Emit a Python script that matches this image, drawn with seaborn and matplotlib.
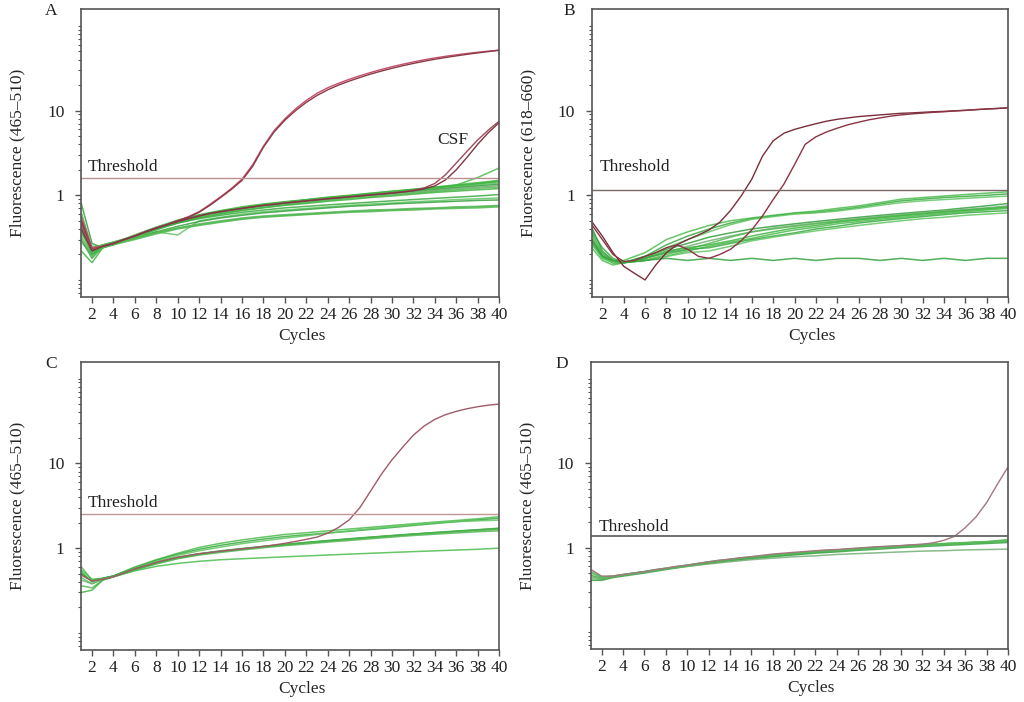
import matplotlib
matplotlib.use("Agg")
import matplotlib.pyplot as plt
import matplotlib.ticker as mticker
import numpy as np
import seaborn as sns

# cycles
CYCLES = list(range(1, 41))
G_CYC = [1, 2, 3, 4, 6, 8, 10, 12, 14, 16, 18, 20, 22, 24, 26, 28, 30, 32, 34, 36, 38, 40]
X_TICKS = list(range(2, 41, 2))

# ---- panel A (465-510) ----
A_GREEN = [
    [0.62, 0.23, 0.25, 0.27, 0.34, 0.42, 0.51, 0.59, 0.66, 0.73, 0.79, 0.84, 0.89, 0.95, 1.00, 1.06, 1.12, 1.18, 1.25, 1.33, 1.41, 1.50],
    [0.48, 0.22, 0.26, 0.28, 0.33, 0.41, 0.50, 0.58, 0.65, 0.71, 0.77, 0.83, 0.88, 0.93, 0.98, 1.04, 1.10, 1.16, 1.22, 1.29, 1.36, 1.45],
    [0.35, 0.25, 0.25, 0.27, 0.33, 0.40, 0.49, 0.57, 0.64, 0.70, 0.76, 0.81, 0.86, 0.91, 0.96, 1.01, 1.07, 1.13, 1.19, 1.26, 1.33, 1.40],
    [0.80, 0.27, 0.24, 0.26, 0.32, 0.40, 0.48, 0.56, 0.63, 0.69, 0.75, 0.80, 0.85, 0.90, 0.95, 1.00, 1.05, 1.11, 1.17, 1.23, 1.29, 1.35],
    [0.28, 0.20, 0.24, 0.27, 0.34, 0.42, 0.50, 0.57, 0.63, 0.69, 0.74, 0.79, 0.84, 0.89, 0.94, 0.99, 1.04, 1.09, 1.14, 1.20, 1.25, 1.30],
    [0.42, 0.24, 0.26, 0.28, 0.33, 0.40, 0.48, 0.55, 0.61, 0.67, 0.72, 0.77, 0.82, 0.87, 0.92, 0.96, 1.01, 1.06, 1.11, 1.16, 1.21, 1.25],
    [0.22, 0.16, 0.24, 0.27, 0.32, 0.39, 0.47, 0.54, 0.60, 0.66, 0.71, 0.76, 0.80, 0.85, 0.89, 0.94, 0.98, 1.03, 1.08, 1.12, 1.16, 1.20],
    [0.55, 0.21, 0.25, 0.27, 0.33, 0.41, 0.49, 0.57, 0.64, 0.70, 0.76, 0.81, 0.86, 0.91, 0.96, 1.01, 1.07, 1.13, 1.20, 1.32, 1.62, 2.10],
    [0.30, 0.18, 0.25, 0.27, 0.33, 0.40, 0.47, 0.53, 0.58, 0.63, 0.67, 0.71, 0.74, 0.77, 0.80, 0.83, 0.86, 0.89, 0.92, 0.95, 0.98, 1.02],
    [0.45, 0.22, 0.25, 0.27, 0.32, 0.37, 0.34, 0.50, 0.55, 0.60, 0.64, 0.67, 0.70, 0.73, 0.76, 0.79, 0.81, 0.84, 0.86, 0.89, 0.91, 0.93],
    [0.38, 0.20, 0.25, 0.27, 0.31, 0.37, 0.43, 0.49, 0.54, 0.58, 0.62, 0.65, 0.68, 0.71, 0.74, 0.76, 0.79, 0.81, 0.83, 0.85, 0.87, 0.88],
    [0.60, 0.24, 0.25, 0.27, 0.31, 0.36, 0.41, 0.46, 0.50, 0.54, 0.57, 0.59, 0.61, 0.63, 0.65, 0.67, 0.68, 0.70, 0.71, 0.73, 0.74, 0.76],
    [0.33, 0.19, 0.24, 0.26, 0.30, 0.35, 0.40, 0.44, 0.48, 0.52, 0.55, 0.57, 0.59, 0.61, 0.63, 0.64, 0.66, 0.67, 0.69, 0.70, 0.71, 0.73],
    [0.50, 0.22, 0.25, 0.27, 0.33, 0.41, 0.50, 0.58, 0.65, 0.72, 0.78, 0.83, 0.88, 0.94, 0.99, 1.05, 1.11, 1.17, 1.24, 1.31, 1.38, 1.47],
    [0.40, 0.21, 0.25, 0.27, 0.31, 0.36, 0.41, 0.45, 0.49, 0.53, 0.56, 0.58, 0.60, 0.62, 0.64, 0.66, 0.67, 0.69, 0.70, 0.72, 0.73, 0.75],
]
A_RED_1 = [0.55, 0.24, 0.25, 0.27, 0.30, 0.33, 0.37, 0.41, 0.45, 0.50, 0.56, 0.64, 0.78, 0.96, 1.20, 1.55, 2.3, 3.8, 5.8, 8.0,
           10.5, 13.2, 16.0, 18.6, 21.0, 23.4, 25.8, 28.2, 30.6, 33.0, 35.3, 37.6, 39.8, 41.9, 43.8, 45.6, 47.3, 48.9, 50.4, 51.8]
A_RED_2 = [0.50, 0.23, 0.25, 0.27, 0.30, 0.33, 0.37, 0.41, 0.45, 0.50, 0.55, 0.63, 0.76, 0.94, 1.17, 1.50, 2.2, 3.7, 5.6, 7.7,
           10.0, 12.5, 15.1, 17.6, 20.0, 22.3, 24.6, 27.0, 29.3, 31.6, 33.9, 36.1, 38.3, 40.4, 42.4, 44.3, 46.2, 48.0, 49.8, 51.5]
A_CSF_1 = [0.45, 0.23, 0.25, 0.27, 0.30, 0.33, 0.37, 0.41, 0.45, 0.49, 0.53, 0.57, 0.61, 0.64, 0.67, 0.70, 0.73, 0.76, 0.79, 0.81,
           0.84, 0.86, 0.89, 0.91, 0.94, 0.96, 0.99, 1.01, 1.04, 1.07, 1.10, 1.15, 1.22, 1.38, 1.75, 2.4, 3.3, 4.5, 5.9, 7.5]
A_CSF_2 = [0.40, 0.22, 0.25, 0.27, 0.30, 0.33, 0.37, 0.41, 0.45, 0.49, 0.53, 0.57, 0.61, 0.64, 0.67, 0.70, 0.73, 0.76, 0.78, 0.81,
           0.83, 0.86, 0.88, 0.91, 0.93, 0.96, 0.98, 1.01, 1.03, 1.06, 1.09, 1.13, 1.19, 1.29, 1.52, 2.0, 2.8, 4.0, 5.5, 7.2]
A_THRESHOLD = 1.58

# ---- panel B (618-660) ----
B_GREEN = [
    [0.30, 0.20, 0.17, 0.17, 0.21, 0.30, 0.37, 0.44, 0.50, 0.54, 0.58, 0.62, 0.65, 0.70, 0.75, 0.82, 0.90, 0.94, 0.98, 1.02, 1.06, 1.10],
    [0.38, 0.24, 0.18, 0.16, 0.19, 0.26, 0.33, 0.40, 0.47, 0.53, 0.57, 0.61, 0.63, 0.67, 0.72, 0.79, 0.86, 0.90, 0.94, 0.97, 1.00, 1.04],
    [0.26, 0.19, 0.16, 0.16, 0.18, 0.24, 0.30, 0.37, 0.45, 0.52, 0.56, 0.60, 0.62, 0.65, 0.70, 0.76, 0.82, 0.86, 0.89, 0.92, 0.95, 0.98],
    [0.42, 0.22, 0.17, 0.16, 0.19, 0.23, 0.27, 0.32, 0.36, 0.40, 0.43, 0.46, 0.49, 0.52, 0.55, 0.58, 0.61, 0.64, 0.67, 0.71, 0.75, 0.80],
    [0.33, 0.20, 0.16, 0.16, 0.18, 0.21, 0.25, 0.29, 0.33, 0.37, 0.41, 0.44, 0.47, 0.50, 0.53, 0.56, 0.59, 0.62, 0.65, 0.68, 0.71, 0.75],
    [0.28, 0.18, 0.16, 0.16, 0.17, 0.20, 0.23, 0.27, 0.32, 0.37, 0.40, 0.43, 0.46, 0.49, 0.52, 0.55, 0.58, 0.61, 0.64, 0.67, 0.70, 0.73],
    [0.36, 0.21, 0.17, 0.16, 0.18, 0.22, 0.24, 0.26, 0.29, 0.33, 0.37, 0.41, 0.44, 0.48, 0.51, 0.54, 0.57, 0.60, 0.63, 0.66, 0.69, 0.72],
    [0.24, 0.17, 0.15, 0.16, 0.17, 0.19, 0.22, 0.25, 0.28, 0.31, 0.35, 0.39, 0.42, 0.46, 0.49, 0.52, 0.55, 0.58, 0.61, 0.64, 0.67, 0.70],
    [0.31, 0.19, 0.16, 0.16, 0.18, 0.21, 0.23, 0.24, 0.27, 0.30, 0.33, 0.36, 0.40, 0.43, 0.47, 0.50, 0.53, 0.56, 0.59, 0.62, 0.64, 0.66],
    [0.27, 0.18, 0.16, 0.16, 0.17, 0.19, 0.21, 0.22, 0.25, 0.29, 0.32, 0.35, 0.38, 0.41, 0.44, 0.47, 0.50, 0.53, 0.55, 0.58, 0.60, 0.62],
    [0.29, 0.19, 0.17, 0.16, 0.17, 0.18, 0.17, 0.18, 0.17, 0.18, 0.17, 0.18, 0.17, 0.18, 0.18, 0.17, 0.18, 0.17, 0.18, 0.17, 0.18, 0.18],
]
B_RED_1 = [0.49, 0.33, 0.21, 0.145, 0.12, 0.10, 0.15, 0.21, 0.26, 0.30, 0.34, 0.39, 0.48, 0.66, 0.98, 1.55, 2.9, 4.4, 5.4, 6.0,
           6.5, 7.0, 7.5, 7.9, 8.2, 8.5, 8.7, 8.9, 9.1, 9.3, 9.4, 9.55, 9.7, 9.8, 9.95, 10.1, 10.3, 10.45, 10.6, 10.8]
B_RED_2 = [0.45, 0.30, 0.20, 0.165, 0.17, 0.19, 0.21, 0.24, 0.26, 0.23, 0.19, 0.18, 0.20, 0.23, 0.29, 0.39, 0.57, 0.89, 1.35, 2.3,
           4.0, 4.9, 5.6, 6.2, 6.8, 7.3, 7.8, 8.2, 8.6, 8.9, 9.15, 9.35, 9.55, 9.7, 9.9, 10.05, 10.25, 10.45, 10.6, 10.8]
B_THRESHOLD = 1.15

# ---- panel C (465-510) ----
C_GREEN = [
    [0.60, 0.42, 0.44, 0.47, 0.60, 0.73, 0.87, 1.02, 1.14, 1.25, 1.35, 1.45, 1.52, 1.60, 1.68, 1.76, 1.85, 1.94, 2.03, 2.12, 2.22, 2.35],
    [0.52, 0.40, 0.44, 0.47, 0.59, 0.72, 0.85, 0.97, 1.08, 1.18, 1.28, 1.37, 1.44, 1.51, 1.58, 1.66, 1.75, 1.85, 1.95, 2.05, 2.15, 2.25],
    [0.45, 0.38, 0.43, 0.46, 0.58, 0.70, 0.82, 0.93, 1.03, 1.13, 1.22, 1.31, 1.40, 1.50, 1.60, 1.70, 1.80, 1.90, 2.00, 2.06, 2.10, 2.14],
    [0.50, 0.41, 0.44, 0.47, 0.57, 0.68, 0.78, 0.86, 0.93, 0.99, 1.05, 1.11, 1.17, 1.23, 1.29, 1.35, 1.41, 1.47, 1.53, 1.59, 1.65, 1.72],
    [0.42, 0.38, 0.43, 0.46, 0.56, 0.66, 0.76, 0.84, 0.91, 0.97, 1.03, 1.09, 1.15, 1.21, 1.27, 1.33, 1.39, 1.45, 1.51, 1.56, 1.61, 1.66],
    [0.36, 0.34, 0.42, 0.46, 0.55, 0.65, 0.75, 0.83, 0.89, 0.95, 1.01, 1.07, 1.12, 1.18, 1.23, 1.29, 1.35, 1.41, 1.46, 1.51, 1.56, 1.60],
    [0.30, 0.32, 0.42, 0.46, 0.56, 0.67, 0.77, 0.85, 0.92, 0.98, 1.04, 1.10, 1.16, 1.22, 1.28, 1.34, 1.40, 1.46, 1.52, 1.58, 1.64, 1.70],
    [0.55, 0.43, 0.44, 0.46, 0.54, 0.61, 0.66, 0.70, 0.73, 0.75, 0.77, 0.79, 0.81, 0.83, 0.85, 0.87, 0.89, 0.91, 0.93, 0.95, 0.97, 1.00],
]
C_RED = [0.48, 0.41, 0.43, 0.46, 0.51, 0.57, 0.62, 0.68, 0.73, 0.78, 0.82, 0.86, 0.89, 0.92, 0.95, 0.98, 1.01, 1.05, 1.09, 1.14,
         1.20, 1.27, 1.35, 1.50, 1.75, 2.15, 3.0, 4.7, 7.4, 11.0, 15.5, 21.5, 27.5, 33.0, 37.5, 41.0, 44.0, 46.5, 48.5, 50.0]
C_THRESHOLD = 2.52

# ---- panel D (465-510) ----
D_GREEN = [
    [0.52, 0.45, 0.46, 0.48, 0.52, 0.57, 0.62, 0.68, 0.73, 0.78, 0.82, 0.86, 0.90, 0.94, 0.98, 1.02, 1.05, 1.09, 1.12, 1.15, 1.18, 1.21],
    [0.47, 0.43, 0.45, 0.47, 0.51, 0.56, 0.61, 0.66, 0.71, 0.76, 0.80, 0.84, 0.88, 0.92, 0.96, 1.00, 1.03, 1.07, 1.10, 1.13, 1.16, 1.19],
    [0.43, 0.42, 0.45, 0.47, 0.52, 0.57, 0.62, 0.67, 0.72, 0.77, 0.81, 0.85, 0.89, 0.93, 0.97, 1.01, 1.05, 1.08, 1.11, 1.14, 1.17, 1.20],
    [0.41, 0.41, 0.44, 0.46, 0.50, 0.55, 0.60, 0.65, 0.70, 0.74, 0.78, 0.82, 0.86, 0.89, 0.93, 0.96, 1.00, 1.03, 1.06, 1.09, 1.12, 1.15],
    [0.45, 0.43, 0.45, 0.47, 0.51, 0.56, 0.60, 0.64, 0.68, 0.72, 0.75, 0.78, 0.80, 0.83, 0.85, 0.87, 0.89, 0.91, 0.92, 0.94, 0.95, 0.96],
    [0.50, 0.44, 0.46, 0.48, 0.52, 0.56, 0.61, 0.67, 0.72, 0.77, 0.81, 0.85, 0.89, 0.93, 0.97, 1.01, 1.04, 1.08, 1.11, 1.14, 1.17, 1.25],
]
D_RED = [0.55, 0.46, 0.46, 0.48, 0.50, 0.52, 0.55, 0.57, 0.60, 0.62, 0.65, 0.68, 0.71, 0.73, 0.76, 0.78, 0.81, 0.84, 0.86, 0.88,
         0.90, 0.92, 0.94, 0.95, 0.97, 0.99, 1.01, 1.03, 1.04, 1.06, 1.08, 1.10, 1.14, 1.22, 1.36, 1.72, 2.3, 3.4, 5.6, 9.0]
D_THRESHOLD = 1.37

GREENS = ["#4cbc4c", "#3aaa42", "#62c662", "#35a03e", "#74ae74", "#55b855", "#40b440"]

sns.set_style("ticks")
plt.rcParams["font.family"] = ["Liberation Serif", "DejaVu Serif"]
plt.rcParams["font.size"] = 12.5
plt.rcParams["text.color"] = "#222222"

fig = plt.figure(figsize=(10.24, 7.02), dpi=100)
fig.patch.set_facecolor("white")

panels = [
    dict(letter="A", pos=[0.0794, 0.577, 0.408, 0.410], letter_xy=(45, 15), ylabel="Fluorescence (465\u2013510)",
         green=A_GREEN, reds=[(A_RED_1, "#c4506c"), (A_RED_2, "#8c3a46"), (A_CSF_1, "#a04a5c"), (A_CSF_2, "#7e3844")],
         thr=A_THRESHOLD, thr_color="#b89090", thr_text_y=1.93, thr_x=1.63),
    dict(letter="B", pos=[0.5778, 0.577, 0.4066, 0.410], letter_xy=(563, 15), ylabel="Fluorescence (618\u2013660)",
         green=B_GREEN, reds=[(B_RED_1, "#7a2e3a"), (B_RED_2, "#8a3444")],
         thr=B_THRESHOLD, thr_color="#7a6868", thr_text_y=1.93, thr_x=1.71),
    dict(letter="C", pos=[0.0794, 0.0741, 0.408, 0.4107], letter_xy=(45, 368), ylabel="Fluorescence (465\u2013510)",
         green=C_GREEN, reds=[(C_RED, "#a05a68")],
         thr=C_THRESHOLD, thr_color="#c09898", thr_text_y=3.08, thr_x=1.63),
    dict(letter="D", pos=[0.5771, 0.0755, 0.4072, 0.4088], letter_xy=(555, 368), ylabel="Fluorescence (465\u2013510)",
         green=D_GREEN, reds=[(D_RED, "#a07880")],
         thr=D_THRESHOLD, thr_color="#707070", thr_text_y=1.57, thr_x=1.71),
]

for p in panels:
    ax = fig.add_axes(p["pos"])
    for i, curve in enumerate(p["green"]):
        sns.lineplot(x=G_CYC, y=curve, ax=ax, color=GREENS[i % len(GREENS)], linewidth=1.1, alpha=0.85)
    for curve, col in p["reds"]:
        sns.lineplot(x=CYCLES, y=curve, ax=ax, color=col, linewidth=1.0)
    ax.axhline(p["thr"], color=p["thr_color"], linewidth=1.4 if p["letter"] == "D" else 1.0)
    ax.text(p["thr_x"], p["thr_text_y"], "Threshold", fontsize=12.5, va="baseline", ha="left")

    ax.set_yscale("log")
    ax.set_xlim(1, 40)
    ax.set_ylim(0.063, 158)
    ax.set_xticks(X_TICKS)
    ax.set_xticklabels([str(t) for t in X_TICKS])
    ax.yaxis.set_major_locator(mticker.FixedLocator([1, 10]))
    ax.yaxis.set_major_formatter(mticker.FixedFormatter(["1", "10"]))
    ax.yaxis.set_minor_locator(mticker.LogLocator(base=10, subs=np.arange(1, 10)))
    ax.yaxis.set_minor_formatter(mticker.NullFormatter())
    ax.tick_params(axis="x", direction="out", length=4, width=1, pad=3, labelsize=12.5, colors="#555555", labelcolor="#222222")
    ax.tick_params(axis="y", which="major", direction="out", length=4, width=1, pad=8, labelsize=12.5,
                   colors="#555555", labelcolor="#222222")
    ax.tick_params(axis="y", which="minor", direction="out", length=2.5, width=0.8, colors="#555555")
    for s in ax.spines.values():
        s.set_visible(True)
        s.set_color("#555555")
        s.set_linewidth(1.2)

    ax.set_xlabel("Cycles", fontsize=12.5)
    ax.set_ylabel(p["ylabel"], fontsize=12.5)
    ax.xaxis.set_label_coords(0.528, -0.108)
    ax.yaxis.set_label_coords(-0.133, 0.5)

    fig.text(p["letter_xy"][0] / 1024, 1 - p["letter_xy"][1] / 702, p["letter"], fontsize=12.5, va="baseline", ha="left")

    if p["letter"] == "A":
        ax.text(34.2, 4.0, "CSF", fontsize=12.5, va="baseline", ha="left")

fig.savefig("out.png", dpi=100, facecolor="white")
